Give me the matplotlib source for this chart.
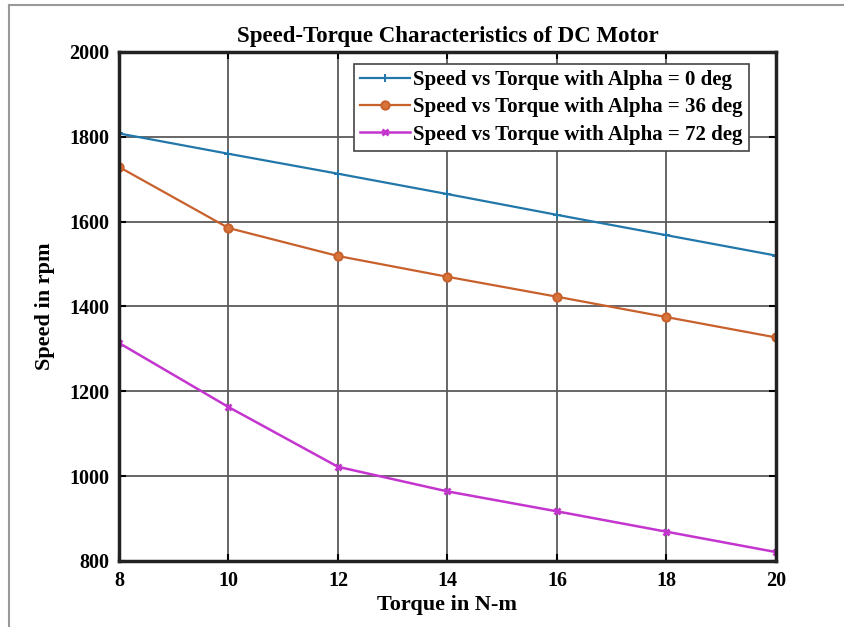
import numpy as np
import matplotlib
matplotlib.use("Agg")
import matplotlib.pyplot as plt
from matplotlib.lines import Line2D

# %%
torque = [8, 10, 12, 14, 16, 18, 20]
speed_a0 = [1808, 1760, 1713, 1665, 1616, 1568, 1520]
speed_a36 = [1729, 1585, 1519, 1470, 1423, 1375, 1327]
speed_a72 = [1314, 1163, 1022, 964, 917, 869, 821]

labels = ["Speed vs Torque with Alpha = 0 deg",
          "Speed vs Torque with Alpha = 36 deg",
          "Speed vs Torque with Alpha = 72 deg"]

xticks = [8, 10, 12, 14, 16, 18, 20]
yticks = [800, 1000, 1200, 1400, 1600, 1800, 2000]

# %%
plt.rcParams['font.family'] = ['Liberation Serif', 'DejaVu Serif']
plt.rcParams['font.weight'] = 'bold'

fig = plt.figure(figsize=(8.45, 6.27), dpi=100)
ax = fig.add_axes([0.1408, 0.1053, 0.7775, 0.8118])

ax.plot(torque, speed_a0, '-+', color='#2177aa', lw=1.6, ms=6, mew=1.4, label=labels[0])
ax.plot(torque, speed_a36, '-o', color='#c8602c', lw=1.6, ms=6, mew=1.4,
        mfc='#d8743a', label=labels[1])
ax.plot(torque, speed_a72, '-x', color='#c435cf', lw=1.8, ms=5, mew=2, label=labels[2])

ax.set_xlim(8, 20)
ax.set_ylim(800, 2000)
ax.set_xticks(xticks)
ax.set_yticks(yticks)
ax.grid(True, color='#5a5a5a', lw=1.3)
ax.set_axisbelow(True)
ax.tick_params(direction='in', length=5, width=1.5, top=True, right=True,
               labelsize=14.5, pad=7)
for s in ax.spines.values():
    s.set_linewidth(2.5)
    s.set_color('#222222')

ax.set_title("Speed-Torque Characteristics of DC Motor", fontsize=16.5,
             fontweight='bold', pad=7)
ax.set_xlabel("Torque in N-m", fontsize=16, fontweight='bold', labelpad=3)
ax.set_ylabel("Speed in rpm", fontsize=16, fontweight='bold', labelpad=10)

leg = ax.legend(loc='upper right', bbox_to_anchor=(0.965, 0.985), fontsize=15,
                fancybox=False, framealpha=1, edgecolor='#444444',
                handlelength=2.4, handletextpad=0.15, borderpad=0.3,
                labelspacing=0.35, borderaxespad=0.2)
leg.get_frame().set_linewidth(1.2)

# image border
fig.add_artist(Line2D([9 / 845, 1], [1 - 5 / 627, 1 - 5 / 627], color='#999999', lw=1.5))
fig.add_artist(Line2D([9 / 845, 9 / 845], [0, 1 - 5 / 627], color='#999999', lw=1.5))

fig.savefig("out.png", dpi=100)
